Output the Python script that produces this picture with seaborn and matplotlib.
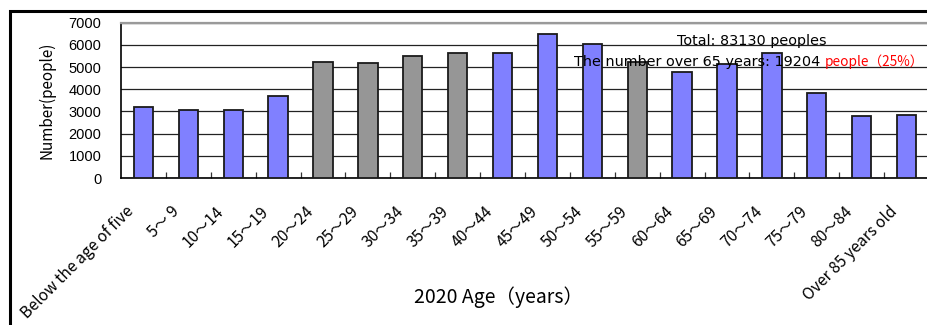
import matplotlib
matplotlib.use("Agg")
import matplotlib.pyplot as plt
from matplotlib.patches import Rectangle
from matplotlib.ticker import FixedLocator
from matplotlib.transforms import ScaledTranslation
import seaborn as sns
import pandas as pd

# Population by five-year age band, 2020
age_groups = ["Below the age of five", "5～ 9", "10～14", "15～19", "20～24", "25～29",
              "30～34", "35～39", "40～44", "45～49", "50～54", "55～59", "60～64",
              "65～69", "70～74", "75～79", "80～84", "Over 85 years old"]
population = [3190, 3060, 3060, 3710, 5230, 5170, 5480, 5630, 5630, 6490,
              6040, 5240, 4780, 5150, 5630, 3850, 2790, 2850]
highlight = ["blue", "blue", "blue", "blue", "gray", "gray", "gray", "gray", "blue",
             "blue", "blue", "gray", "blue", "blue", "blue", "blue", "blue", "blue"]
y_ticks = [0, 1000, 2000, 3000, 4000, 5000, 6000, 7000]
total_text = "Total: 83130 peoples"
senior_text = "The number over 65 years: 19204 "
senior_red = "people（25%）"

palette = {"blue": "#8080FF", "gray": "#969696"}
jp = ["Noto Sans CJK JP", "DejaVu Sans"]
latin = ["DejaVu Sans", "Noto Sans CJK JP"]

sns.set_theme(style="white")
plt.rcParams["font.family"] = jp
plt.rcParams.update({"text.color": "black", "axes.labelcolor": "black",
                     "xtick.color": "black", "ytick.color": "black"})

df = pd.DataFrame({"age": age_groups, "pop": population, "grp": highlight})

fig = plt.figure(figsize=(9.27, 3.25), dpi=100)
ax_h = (178 - 22.7)
ax = fig.add_axes([121 / 927, 1 - 178 / 325, 808 / 927, ax_h / 325])

sns.barplot(data=df, x="age", y="pop", hue="grp", palette=palette, dodge=False,
            saturation=1, width=0.43, edgecolor="#1a1a1a", linewidth=1.3,
            legend=False, ax=ax, zorder=3)

ax.set_xlim(-0.5, len(age_groups) - 0.5)
ax.set_ylim(0, 7000)
ax.set_yticks(y_ticks)
ax.set_yticklabels([str(v) for v in y_ticks], fontsize=10.5,
                   family=["Liberation Sans", "DejaVu Sans"])
ax.yaxis.grid(True, color="#222222", linewidth=0.9, zorder=0)
ax.set_axisbelow(True)

ax.set_xticks(range(len(age_groups)))
ax.xaxis.set_minor_locator(FixedLocator([i + 0.5 for i in range(len(age_groups) - 1)]))
ax.tick_params(axis="x", which="major", length=0, pad=0)
ax.tick_params(axis="x", which="minor", direction="in", length=4, width=0.9,
               color="#333333", bottom=True)
ax.tick_params(axis="y", length=0, pad=14)
ax.set_xticklabels(age_groups, rotation=45, ha="right", va="top",
                   rotation_mode="anchor", fontsize=11.3)

for side in ("left", "bottom"):
    ax.spines[side].set_color("black")
    ax.spines[side].set_linewidth(1.2)
ax.spines["top"].set_color("#9a9a9a")
ax.spines["top"].set_linewidth(1.6)
ax.spines["right"].set_visible(False)

ax.set_xlabel("2020 Age（years）", fontsize=14)
ax.set_ylabel("Number(people)", fontsize=11)
ax.xaxis.set_label_coords((498 - 121) / 808, -(297 - 178) / ax_h)
ax.xaxis.label.set_va("center")
ax.yaxis.set_label_coords((46.5 - 121) / 808, 0.5)
ax.yaxis.label.set_va("center")

ax.text((752 - 121) / 808, (178 - 41) / ax_h, total_text, transform=ax.transAxes,
        ha="center", va="center", fontsize=10.4, family=latin, zorder=5)
t2 = ax.text((574 - 121) / 808, (178 - 62) / ax_h, senior_text, transform=ax.transAxes,
             ha="left", va="center", fontsize=10.4, family=latin, zorder=5)
ax.annotate(senior_red, xy=(1, 0.5), xycoords=t2, ha="left", va="center", fontsize=9.8,
            color="red", family=jp, zorder=5)

# outer chart frame (runs off the right and bottom edges)
fig.patches.append(Rectangle((9.5 / 927, -0.1), 1.2, 1.1 - 10.5 / 325,
                             transform=fig.transFigure, fill=False,
                             edgecolor="black", linewidth=2.2))

# slide the slanted category labels down-left, below the axis
shift = ScaledTranslation(-18 / 100, -25 / 100, fig.dpi_scale_trans)
for lab in ax.get_xticklabels():
    lab.set_transform(lab.get_transform() + shift)

fig.savefig("out.png", dpi=100)
